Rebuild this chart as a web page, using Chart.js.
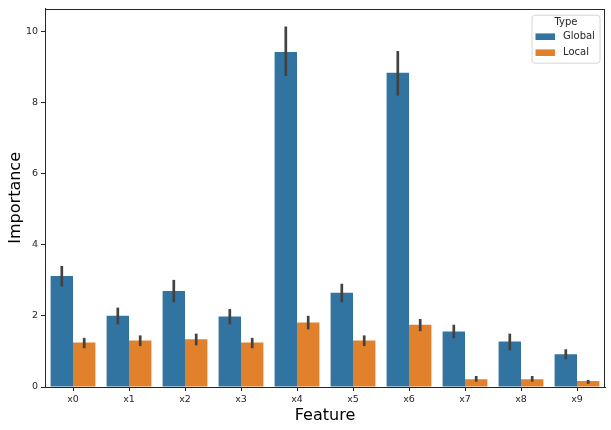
<!DOCTYPE html>
<html>
<head>
<meta charset="utf-8">
<script src="https://cdn.jsdelivr.net/npm/chart.js@4.4.0/dist/chart.umd.min.js"></script>
<style>
  html, body { margin: 0; padding: 0; background: #fff; }
</style>
</head>
<body>
<canvas id="featChart" width="611" height="430"></canvas>
<script>
// donnees (moyenne + intervalle de confiance)
const features = ['x0', 'x1', 'x2', 'x3', 'x4', 'x5', 'x6', 'x7', 'x8', 'x9'];
const globalMean = [3.12, 2.00, 2.70, 1.98, 9.41, 2.65, 8.83, 1.56, 1.28, 0.92];
const globalLow  = [2.82, 1.76, 2.38, 1.76, 8.74, 2.38, 8.19, 1.37, 1.03, 0.78];
const globalHigh = [3.40, 2.23, 3.01, 2.19, 10.13, 2.90, 9.44, 1.75, 1.50, 1.06];
const localMean  = [1.25, 1.31, 1.34, 1.25, 1.81, 1.31, 1.75, 0.22, 0.22, 0.17];
const localLow   = [1.09, 1.15, 1.17, 1.09, 1.62, 1.15, 1.57, 0.15, 0.15, 0.09];
const localHigh  = [1.38, 1.45, 1.50, 1.38, 2.00, 1.45, 1.91, 0.31, 0.31, 0.20];
const yTicks = [0, 2, 4, 6, 8, 10];

const FONT = 'DejaVu Sans';
const AXIS = '#262626';

// barres d'erreur dessinees avec les echelles du graphique
const errorBars = {
  id: 'errorBars',
  afterDatasetsDraw(chart) {
    const { ctx, scales } = chart;
    ctx.save();
    ctx.strokeStyle = '#424242';
    ctx.lineWidth = 2.7;
    chart.data.datasets.forEach((ds, i) => {
      const meta = chart.getDatasetMeta(i);
      meta.data.forEach((bar, j) => {
        const yLo = scales.y.getPixelForValue(ds.errLow[j]);
        const yHi = scales.y.getPixelForValue(ds.errHigh[j]);
        ctx.beginPath();
        ctx.moveTo(bar.x, yLo);
        ctx.lineTo(bar.x, yHi);
        ctx.stroke();
      });
    });
    ctx.restore();
  }
};

// cadre complet autour de la zone de trace
const frame = {
  id: 'frame',
  afterDraw(chart) {
    const { ctx, chartArea: a } = chart;
    ctx.save();
    ctx.strokeStyle = AXIS;
    ctx.lineWidth = 1;
    ctx.strokeRect(Math.round(a.left) + 0.5, Math.round(a.top) + 0.5,
      Math.round(a.right - a.left) - 1, Math.round(a.bottom - a.top));
    ctx.restore();
  }
};

// legende dans le coin haut droit, facon matplotlib
const legendBox = {
  id: 'legendBox',
  afterDraw(chart) {
    const { ctx, chartArea: a } = chart;
    const w = 68, h = 48;
    const x = a.right - 5.5 - w, y = a.top + 6;
    ctx.save();
    ctx.fillStyle = 'rgba(255,255,255,0.8)';
    ctx.strokeStyle = '#d6d6d6';
    ctx.lineWidth = 1;
    ctx.beginPath();
    ctx.roundRect(x + 0.5, y + 0.5, w, h, 3);
    ctx.fill();
    ctx.stroke();
    ctx.fillStyle = AXIS;
    ctx.font = `10px "${FONT}"`;
    ctx.textBaseline = 'middle';
    ctx.textAlign = 'center';
    ctx.fillText('Type', x + w / 2 + 0.5, y + 8);
    ctx.textAlign = 'left';
    chart.data.datasets.forEach((ds, i) => {
      const ry = y + 22 + i * 16;
      ctx.fillStyle = ds.backgroundColor;
      ctx.fillRect(x + 4, ry - 3.3, 19.5, 6.6);
      ctx.fillStyle = AXIS;
      ctx.fillText(ds.label, x + 31.5, ry);
    });
    ctx.restore();
  }
};

new Chart(document.getElementById('featChart'), {
  type: 'bar',
  data: {
    labels: features,
    datasets: [
      { label: 'Global', data: globalMean, errLow: globalLow, errHigh: globalHigh, backgroundColor: '#3274a1' },
      { label: 'Local', data: localMean, errLow: localLow, errHigh: localHigh, backgroundColor: '#e1812c' }
    ]
  },
  options: {
    responsive: false,
    animation: false,
    devicePixelRatio: 1,
    categoryPercentage: 0.8,
    barPercentage: 1.0,
    layout: { padding: { top: 6, right: 6, left: 0, bottom: 0 } },
    plugins: {
      legend: { display: false },
      tooltip: { enabled: false }
    },
    scales: {
      x: {
        grid: { display: true, offset: false, drawOnChartArea: false, drawTicks: true, tickLength: 4, color: AXIS },
        border: { display: true, color: AXIS, width: 1 },
        ticks: { font: { family: FONT, size: 9.5 }, color: AXIS, padding: 3, maxRotation: 0 },
        title: { display: true, text: 'Feature', font: { family: FONT, size: 16 }, color: '#000', padding: { top: 0, bottom: 5 } },
        afterFit: s => { s.height = 43; }
      },
      y: {
        min: 0,
        max: 10.63,
        afterBuildTicks: s => { s.ticks = yTicks.map(v => ({ value: v })); },
        grid: { display: true, drawOnChartArea: false, drawTicks: true, tickLength: 4, color: AXIS },
        border: { display: true, color: AXIS, width: 1 },
        ticks: { font: { family: FONT, size: 9.5 }, color: AXIS, padding: 3 },
        title: { display: true, text: 'Importance', font: { family: FONT, size: 16 }, color: '#000', padding: { top: 6, bottom: 0 } },
        afterFit: s => { s.width = 45; }
      }
    }
  },
  plugins: [errorBars, frame, legendBox]
});
</script>
</body>
</html>
